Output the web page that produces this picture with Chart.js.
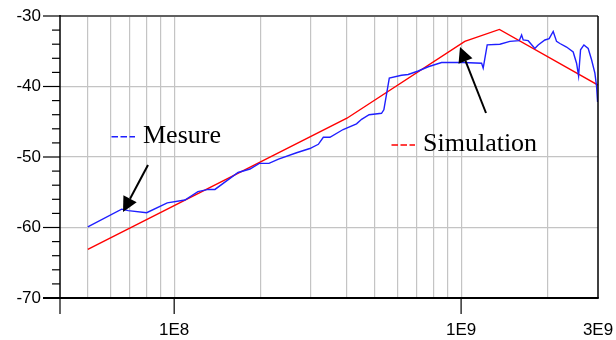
<!DOCTYPE html>
<html><head><meta charset="utf-8">
<script src="https://cdn.jsdelivr.net/npm/chart.js@4"></script>
<style>html,body{margin:0;padding:0;background:#fff}#wrap{width:616px;height:340px;position:relative}</style>
</head><body><div id="wrap"><canvas id="c"></canvas></div>
<script>
// ---- data ----
const seriesNames = ["Mesure", "Simulation"];
const measFreq = [5.0e7, 6.56e7, 6.92e7, 8.02e7, 9.46e7, 1.09e8, 1.21e8, 1.315e8, 1.387e8, 1.67e8,
  1.837e8, 1.98e8, 2.14e8, 2.31e8, 2.67e8, 2.97e8, 3.18e8, 3.31e8, 3.49e8, 3.88e8,
  4.32e8, 4.50e8, 4.78e8, 5.28e8, 5.38e8, 5.62e8, 6.20e8, 6.54e8, 7.09e8, 7.68e8,
  8.55e8, 1.017e9, 1.179e9, 1.194e9, 1.233e9, 1.365e9, 1.479e9, 1.594e9, 1.625e9, 1.646e9,
  1.713e9, 1.807e9, 1.856e9, 1.959e9, 2.027e9, 2.094e9, 2.151e9, 2.210e9, 2.331e9, 2.458e9,
  2.526e9, 2.567e9, 2.608e9, 2.679e9, 2.773e9, 2.849e9, 2.926e9, 2.966e9, 2.99e9];
const measLevel = [-59.9, -57.4, -57.6, -57.9, -56.5, -56.1, -54.9, -54.6, -54.6, -52.2,
  -51.7, -50.9, -50.9, -50.3, -49.4, -48.8, -48.2, -47.2, -47.2, -46.1,
  -45.3, -44.65, -44.0, -43.8, -43.3, -38.8, -38.4, -38.3, -37.8, -37.2,
  -36.6, -36.6, -36.7, -37.4, -34.1, -34.0, -33.6, -33.5, -32.7, -33.4,
  -33.5, -34.6, -34.1, -33.4, -33.2, -32.2, -33.6, -33.9, -34.4, -35.1,
  -36.7, -38.5, -34.8, -34.1, -34.6, -36.2, -38.1, -40.0, -42.2];
const simFreq = [5e7, 4e8, 1.03e9, 1.36e9, 3e9];
const simLevel = [-63.1, -44.5, -33.6, -31.9, -39.8];
const xGridTicks = [4e7, 5e7, 6e7, 7e7, 8e7, 9e7, 1e8, 2e8, 3e8, 4e8, 5e8, 6e8, 7e8, 8e8, 9e8, 1e9, 2e9, 3e9];
const xLabelValues = [1e8, 1e9, 3e9];
const xLabelTexts = ["1E8", "1E9", "3E9"];
const xMarkedTicks = [4e7, 1e8, 1e9];
const yTicks = [-70, -68, -66, -64, -62, -60, -58, -56, -54, -52, -50, -48, -46, -44, -42, -40, -38, -36, -34, -32, -30];
const yMin = -70, yMax = -30, xMin = 4e7, xMax = 3e9;

const near = (a, b) => Math.abs(a / b - 1) < 1e-6;
const isMajorY = v => Math.abs(v % 10) < 1e-9;

const decor = {
  id: 'decor',
  afterDraw(chart) {
    const { ctx, chartArea: a, scales: { x, y } } = chart;
    const line = (x1, y1, x2, y2) => { ctx.beginPath(); ctx.moveTo(x1, y1); ctx.lineTo(x2, y2); ctx.stroke(); };
    ctx.save();
    // frame
    ctx.strokeStyle = '#606060'; ctx.lineWidth = 2; line(a.left, a.top, a.right, a.top);
    ctx.strokeStyle = '#000'; ctx.lineWidth = 1.5; line(a.right, a.top, a.right, a.bottom);
    ctx.lineWidth = 1.5; line(a.left, a.top - 1, a.left, a.bottom);
    ctx.lineWidth = 2; line(a.left - 17, a.bottom, a.right + 0.75, a.bottom);
    // y ticks
    ctx.lineWidth = 1.2;
    yTicks.forEach(v => {
      const py = y.getPixelForValue(v);
      const len = isMajorY(v) ? 17 : 8;
      line(a.left - len, py, a.left, py);
    });
    // x ticks
    xMarkedTicks.forEach(v => {
      const px = x.getPixelForValue(v);
      line(px, a.bottom, px, a.bottom + 16);
    });
    // legend annotations
    const legend = (color, x0, yl, text, tx, ty) => {
      ctx.strokeStyle = color; ctx.lineWidth = 1.5; ctx.setLineDash([6.5, 2.5]);
      line(x0, yl, x0 + 23.5, yl);
      ctx.setLineDash([]);
      ctx.fillStyle = '#000'; ctx.font = '26px "Liberation Serif", serif';
      ctx.textAlign = 'left'; ctx.textBaseline = 'alphabetic';
      ctx.fillText(text, tx, ty);
    };
    legend('#1f1fff', 111.5, 136.7, seriesNames[0], 143, 142.7);
    legend('#ff0000', 391.5, 145, seriesNames[1], 423, 150.7);
    // arrows
    const arrow = (x1, y1, x2, y2) => {
      const ang = Math.atan2(y2 - y1, x2 - x1), L = 15, W = 7.5;
      const bx = x2 - L * Math.cos(ang), by = y2 - L * Math.sin(ang);
      ctx.strokeStyle = '#000'; ctx.lineWidth = 2;
      line(x1, y1, bx, by);
      ctx.fillStyle = '#000';
      ctx.beginPath();
      ctx.moveTo(x2, y2);
      ctx.lineTo(bx + W * Math.sin(ang), by - W * Math.cos(ang));
      ctx.lineTo(bx - W * Math.sin(ang), by + W * Math.cos(ang));
      ctx.closePath(); ctx.fill();
    };
    arrow(148, 165, 123, 212);
    arrow(486, 113, 460, 47);
    ctx.restore();
  }
};

new Chart(document.getElementById('c'), {
  type: 'line',
  data: {
    datasets: [
      { label: seriesNames[0], data: measFreq.map((f, i) => ({ x: f, y: measLevel[i] })),
        borderColor: '#1f1fff', borderWidth: 1.4, pointRadius: 0, tension: 0, fill: false },
      { label: seriesNames[1], data: simFreq.map((f, i) => ({ x: f, y: simLevel[i] })),
        borderColor: '#ff0000', borderWidth: 1.4, pointRadius: 0, tension: 0, fill: false }
    ]
  },
  options: {
    responsive: true, maintainAspectRatio: false, animation: false,
    layout: { padding: { top: 16, right: 18, left: 0, bottom: 0 } },
    plugins: { legend: { display: false }, tooltip: { enabled: false } },
    scales: {
      x: {
        type: 'logarithmic', min: xMin, max: xMax,
        afterBuildTicks: s => { s.ticks = xGridTicks.map(v => ({ value: v })); },
        afterFit: s => { s.height = 42; s.paddingLeft = 0; s.paddingRight = 0; s.paddingTop = 0; s.paddingBottom = 0; },
        border: { display: false },
        grid: {
          drawTicks: false, lineWidth: 1.2,
          color: c => (near(c.tick.value, xMin) || near(c.tick.value, xMax)) ? 'rgba(0,0,0,0)' : '#c4c4c4'
        },
        ticks: {
          autoSkip: false, maxRotation: 0, padding: 22, color: '#000',
          font: { family: '"Liberation Sans", Arial, sans-serif', size: 17 },
          callback: v => { const i = xLabelValues.findIndex(t => near(v, t)); return i >= 0 ? xLabelTexts[i] : ''; }
        }
      },
      y: {
        min: yMin, max: yMax,
        afterBuildTicks: s => { s.ticks = yTicks.map(v => ({ value: v })); },
        afterFit: s => { s.width = 60; s.paddingLeft = 0; s.paddingRight = 0; s.paddingTop = 0; s.paddingBottom = 0; },
        border: { display: false },
        grid: {
          drawTicks: false, lineWidth: 1.2,
          color: c => (isMajorY(c.tick.value) && c.tick.value !== yMin && c.tick.value !== yMax) ? '#c4c4c4' : 'rgba(0,0,0,0)'
        },
        ticks: {
          autoSkip: false, padding: 19, color: '#000',
          font: { family: '"Liberation Sans", Arial, sans-serif', size: 17 },
          callback: v => isMajorY(v) ? String(v) : ''
        }
      }
    }
  },
  plugins: [decor]
});
</script></body></html>
